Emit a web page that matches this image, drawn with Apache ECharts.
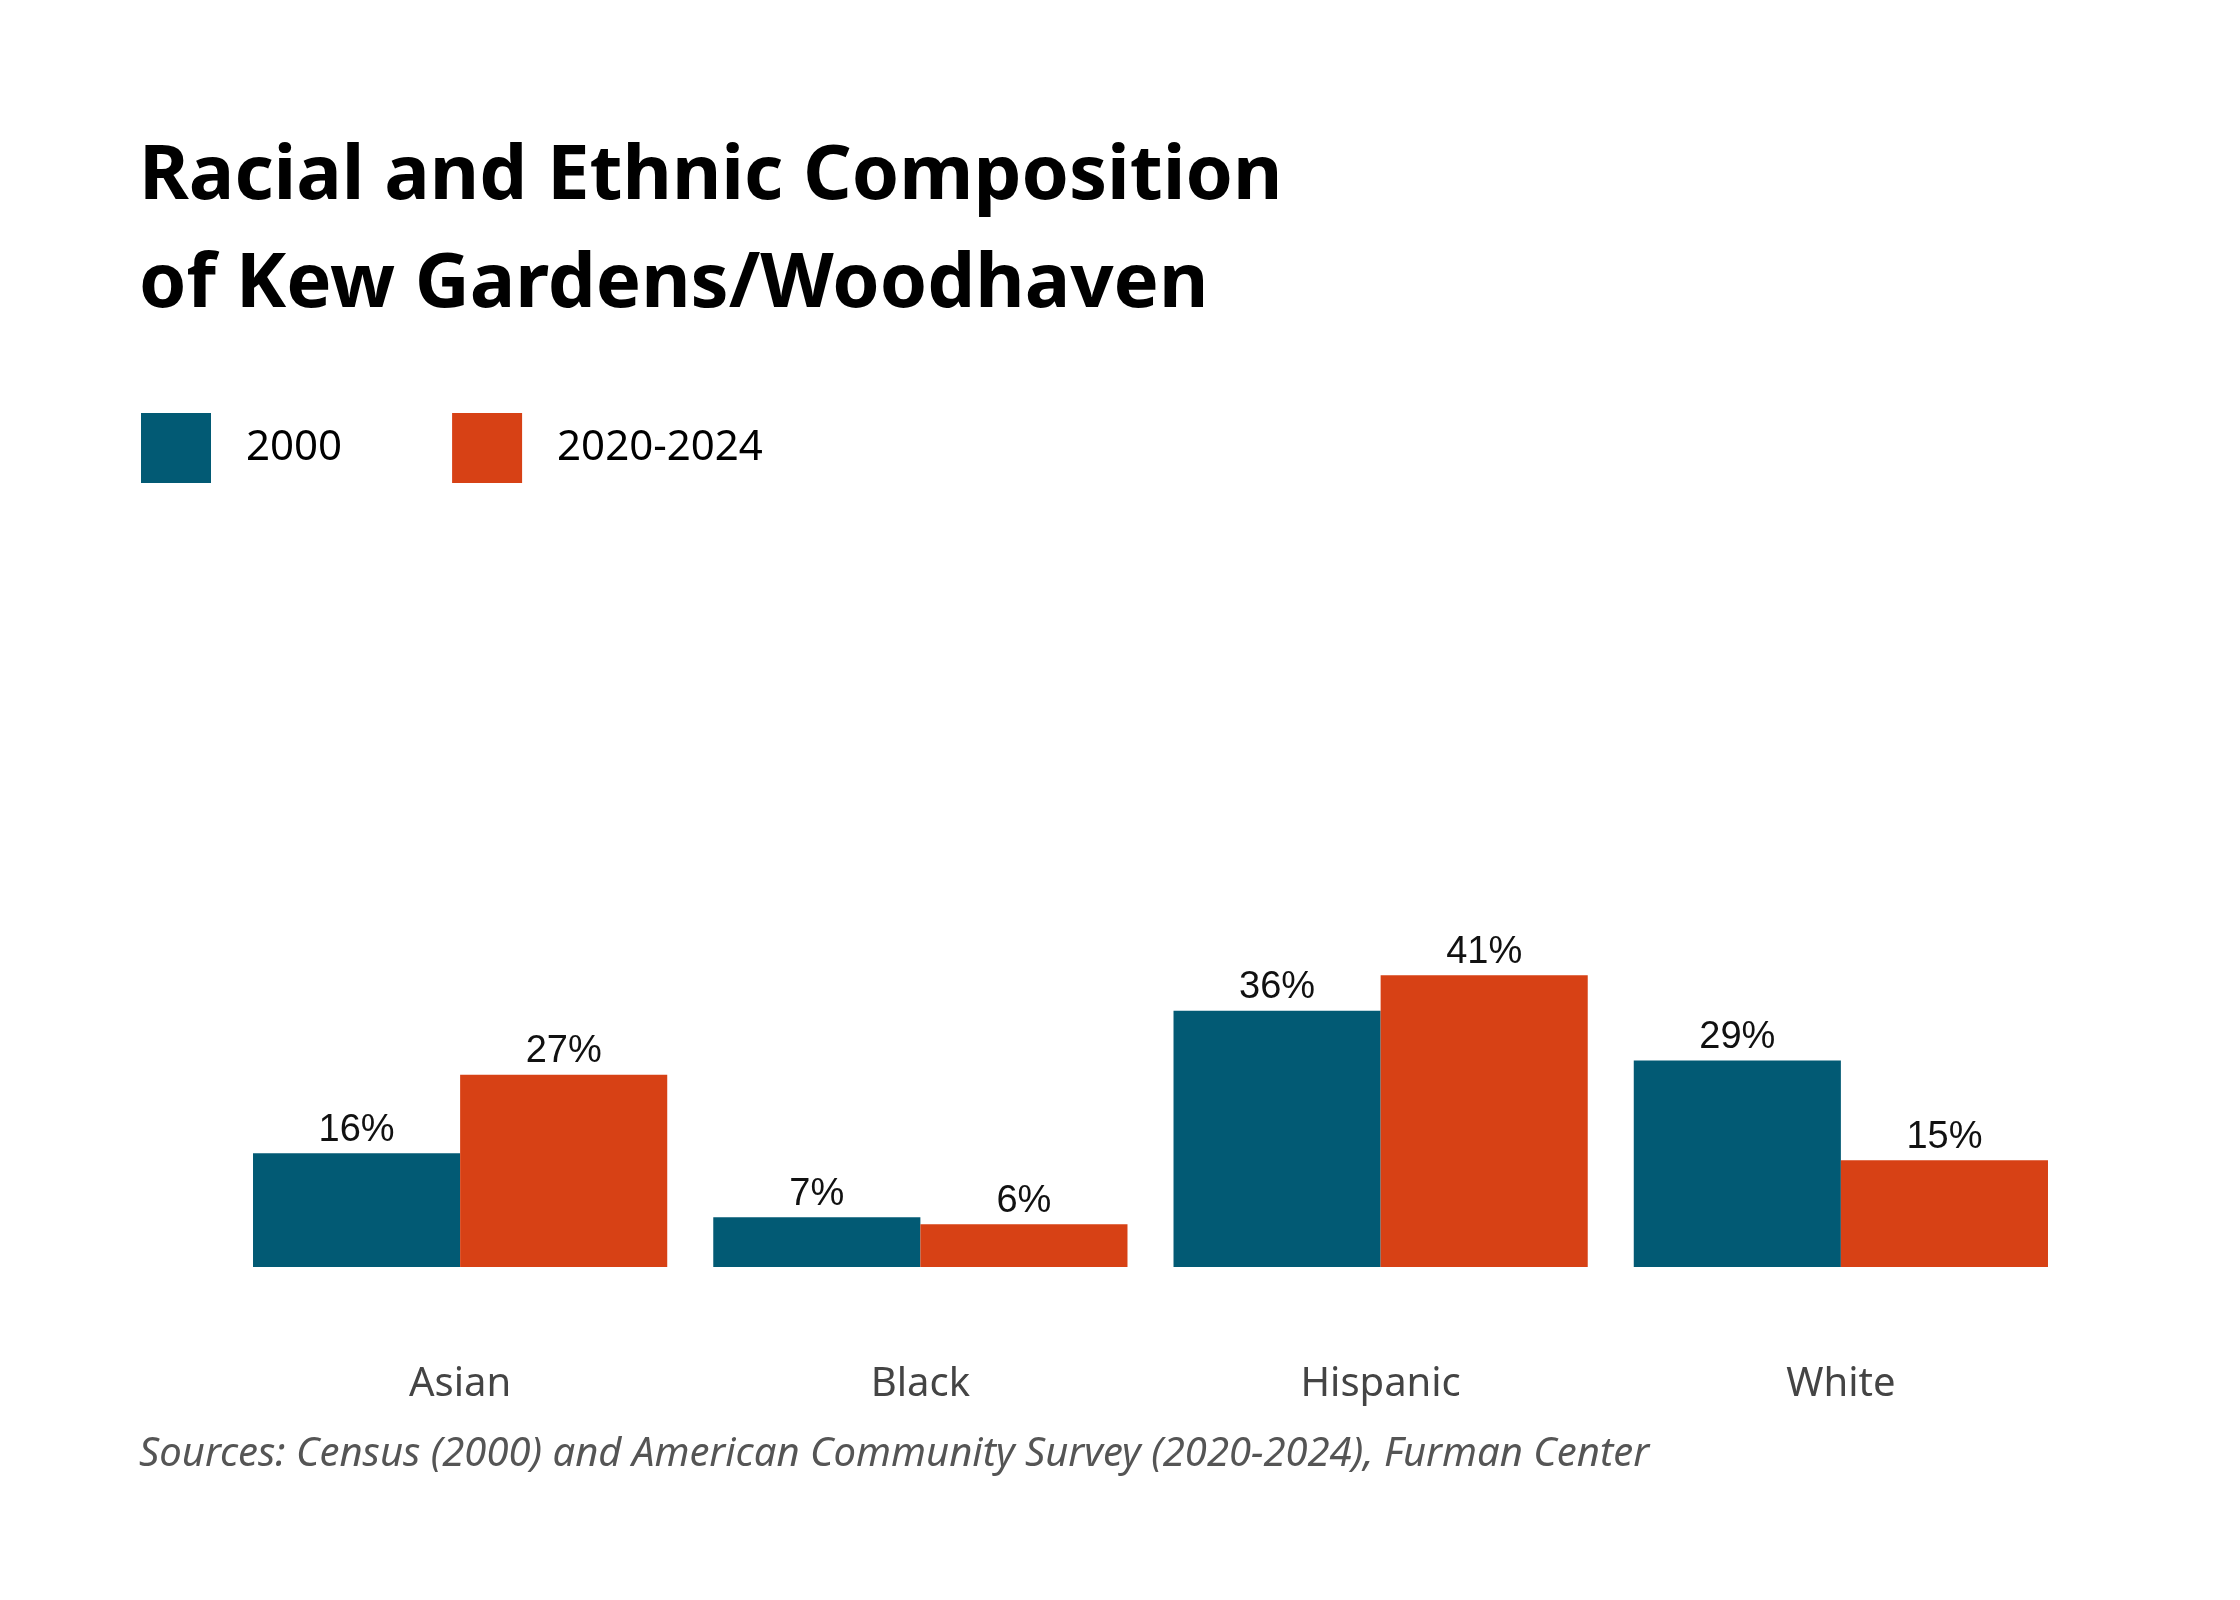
<!DOCTYPE html>
<html>
<head>
<meta charset="utf-8" />
<script src="https://cdn.jsdelivr.net/npm/echarts@6/dist/echarts.min.js"></script>
<style>html,body{margin:0;background:#fff}</style>
</head>
<body>
<div id="chartmain" style="width:2240px; height:1600px;"></div>
<script>
var categories = ['Asian', 'Black', 'Hispanic', 'White'];
var seriesNames = ['2000', '2020-2024'];
var values2000 = [16, 7, 36, 29];
var values2024 = [27, 6, 41, 15];
var colors = ['#025a74', '#d74115'];

var labelStyle = {
  show: true,
  position: 'top',
  distance: 4,
  formatter: '{c}%',
  fontFamily: 'Liberation Sans',
  fontSize: 38,
  color: '#111'
};

var option = {
  backgroundColor: '#fff',
  animation: false,
  title: [{
    text: 'Racial and Ethnic Composition\nof Kew Gardens/Woodhaven',
    left: 134, top: 118,
    textStyle: { fontFamily: 'Noto Sans', fontWeight: 'bold', fontSize: 76, lineHeight: 108, color: '#000' }
  }, {
    text: 'Sources: Census (2000) and American Community Survey (2020-2024), Furman Center',
    left: 134, top: 1430,
    textStyle: { fontFamily: 'Noto Sans', fontStyle: 'italic', fontWeight: 'normal', fontSize: 40, color: '#555' }
  }],
  legend: {
    left: 136, top: 408,
    itemWidth: 70, itemHeight: 70, itemGap: 110,
    icon: 'rect',
    textStyle: { fontFamily: 'Noto Sans', fontSize: 42, color: '#000', padding: [0, 0, 0, 30] },
    data: seriesNames
  },
  grid: { left: 230, right: 169, top: 840, bottom: 333 },
  xAxis: {
    type: 'category',
    data: categories,
    axisLine: { show: false },
    axisTick: { show: false },
    axisLabel: { margin: 98, fontFamily: 'Noto Sans', fontSize: 40, color: '#444' }
  },
  yAxis: { type: 'value', min: 0, max: 60, show: false, splitLine: { show: false } },
  series: [{
    name: seriesNames[0], type: 'bar', data: values2000,
    itemStyle: { color: colors[0] }, barGap: '0%', barCategoryGap: '10%', label: labelStyle
  }, {
    name: seriesNames[1], type: 'bar', data: values2024,
    itemStyle: { color: colors[1] }, barGap: '0%', barCategoryGap: '10%', label: labelStyle
  }]
};
var myChart = echarts.init(document.getElementById('chartmain'));
myChart.setOption(option);
</script>
</body>
</html>
